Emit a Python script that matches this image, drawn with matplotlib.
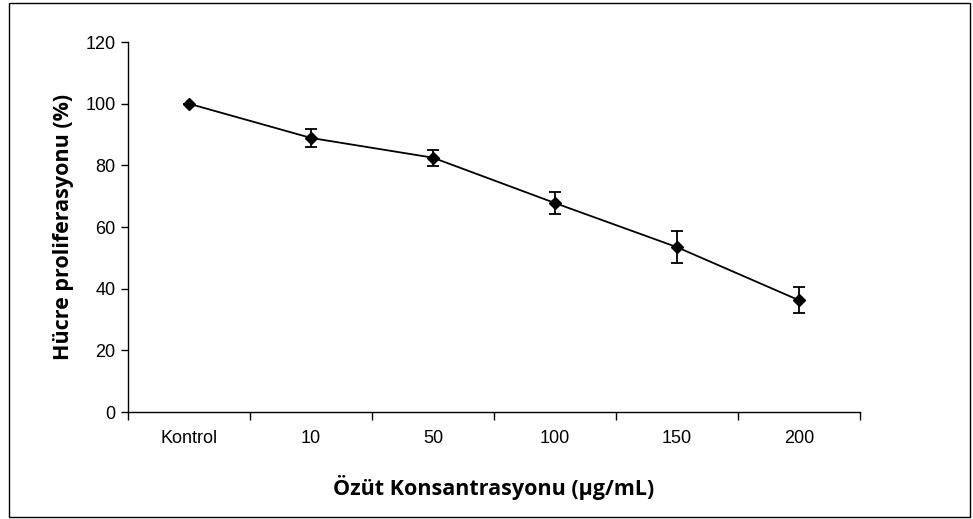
import numpy as np
import matplotlib.pyplot as plt
from matplotlib.patches import Rectangle

# data
categories = ['Kontrol', '10', '50', '100', '150', '200']
proliferation = [100, 88.9, 82.5, 67.8, 53.5, 36.3]
errors = [0, 2.9, 2.6, 3.7, 5.2, 4.2]

plt.rcParams['font.family'] = ['Liberation Sans', 'DejaVu Sans']

fig = plt.figure(figsize=(9.73, 5.19), dpi=100)
ax = fig.add_axes([0.1316, 0.206, 0.752, 0.713])

x = np.arange(len(categories))
ax.errorbar(x, proliferation, yerr=errors, color='black', lw=1.3,
            marker='D', markersize=6.5, ecolor='black', elinewidth=1.3,
            capsize=4.5, capthick=1.3)

ax.set_xlim(-0.5, len(categories) - 0.5)
ax.set_ylim(0, 120)
ax.set_yticks(range(0, 121, 20))

# ticks between categories, labels at centers
ax.set_xticks(np.arange(-0.5, len(categories), 1))
ax.set_xticklabels([])
ax.set_xticks(x, minor=True)
ax.set_xticklabels(categories, minor=True, fontsize=13)
ax.tick_params(axis='x', which='minor', length=0, pad=13)
ax.tick_params(axis='x', which='major', length=6, width=1, direction='out')
ax.tick_params(axis='y', length=5, width=1, direction='out', labelsize=13, pad=4)

for s in ['top', 'right']:
    ax.spines[s].set_visible(False)
for s in ['left', 'bottom']:
    ax.spines[s].set_linewidth(1)

ax.set_ylabel('Hücre proliferasyonu (%)', family='Open Sans', fontweight='bold',
              fontsize=15.5, labelpad=8)
ax.set_xlabel('Özüt Konsantrasyonu (µg/mL)', family='Open Sans', fontweight='bold',
              fontsize=15.5, labelpad=20)

# outer frame
fig.patches.append(Rectangle((0.009, 0.004), 0.988, 0.99, transform=fig.transFigure,
                             fill=False, edgecolor='black', lw=1))

fig.savefig('out.png', dpi=100)
